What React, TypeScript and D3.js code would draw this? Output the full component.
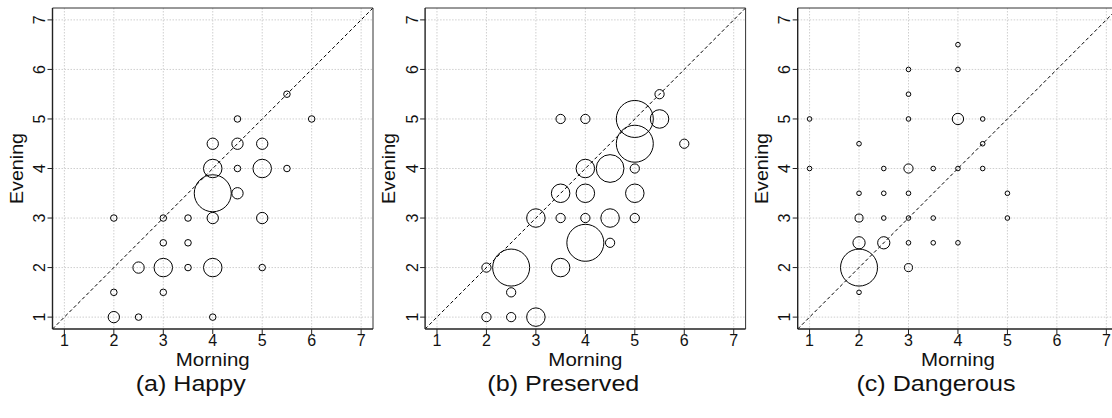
import React from "react";
import * as d3 from "d3";

// [morning, evening, count]
const happyPoints: [number, number, number][] = [
  [5.5, 5.5, 1], [4.5, 5, 1], [6, 5, 1],
  [4, 4.5, 3], [4.5, 4.5, 3], [5, 4.5, 3],
  [4, 4, 8], [4.5, 4, 1], [5, 4, 8], [5.5, 4, 1],
  [4, 3.5, 32], [4.5, 3.5, 3],
  [2, 3, 1], [3, 3, 1], [3.5, 3, 1], [4, 3, 3], [5, 3, 3],
  [3, 2.5, 1], [3.5, 2.5, 1],
  [2.5, 2, 3], [3, 2, 8], [3.5, 2, 1], [4, 2, 8], [5, 2, 1],
  [2, 1.5, 1], [3, 1.5, 1],
  [2, 1, 3], [2.5, 1, 1], [4, 1, 1],
];

const preservedPoints: [number, number, number][] = [
  [5.5, 5.5, 1],
  [3.5, 5, 1], [4, 5, 1], [5, 5, 16], [5.5, 5, 4],
  [5, 4.5, 16], [6, 4.5, 1],
  [4, 4, 4], [4.5, 4, 9], [5, 4, 1],
  [3.5, 3.5, 4], [4, 3.5, 4], [5, 3.5, 4],
  [3, 3, 4], [3.5, 3, 1], [4, 3, 1], [4.5, 3, 4], [5, 3, 1],
  [4, 2.5, 16], [4.5, 2.5, 1],
  [2, 2, 1], [2.5, 2, 16], [3.5, 2, 4],
  [2.5, 1.5, 1],
  [2, 1, 1], [2.5, 1, 1], [3, 1, 4],
];

const dangerousPoints: [number, number, number][] = [
  [4, 6.5, 1],
  [3, 6, 1], [4, 6, 1],
  [3, 5.5, 1],
  [1, 5, 1], [3, 5, 1], [4, 5, 6], [4.5, 5, 1],
  [2, 4.5, 1], [4.5, 4.5, 1],
  [1, 4, 1], [2.5, 4, 1], [3, 4, 4], [3.5, 4, 1], [4, 4, 1], [4.5, 4, 1],
  [2, 3.5, 1], [2.5, 3.5, 1], [3, 3.5, 1], [5, 3.5, 1],
  [2, 3, 3], [2.5, 3, 1], [3, 3, 1], [3.5, 3, 1], [5, 3, 1],
  [2, 2.5, 7], [2.5, 2.5, 7], [3, 2.5, 1], [3.5, 2.5, 1], [4, 2.5, 1],
  [2, 2, 64], [3, 2, 3],
  [2, 1.5, 1],
];

const panelTitles = ["(a) Happy", "(b) Preserved", "(c) Dangerous"];
const panelTitleWidths = [110, 152, 159];
const ticks = [1, 2, 3, 4, 5, 6, 7];
const xLabel = "Morning";
const yLabel = "Evening";

const W = 1112;
const H = 418;
const FONT = "'Liberation Sans', Arial, Helvetica, sans-serif";

const panels = [
  { points: happyPoints, max: 32 },
  { points: preservedPoints, max: 16 },
  { points: dangerousPoints, max: 64 },
];

const PANEL_STEP = 372.6;
const PLOT_LEFT0 = 52.5;
const PLOT_W = 320.5;
const PLOT_TOP = 8;
const PLOT_BOTTOM = 329;
const DOMAIN: [number, number] = [0.76, 7.24];
const R_MAX = 18.5;

function Panel({ index }: { index: number }) {
  const { points, max } = panels[index];
  const x0 = PLOT_LEFT0 + index * PANEL_STEP;
  const x = d3.scaleLinear().domain(DOMAIN).range([x0, x0 + PLOT_W]);
  const y = d3.scaleLinear().domain(DOMAIN).range([PLOT_BOTTOM, PLOT_TOP]);
  const r = d3.scaleSqrt().domain([0, max]).range([0, R_MAX]);
  const clipId = `clip-${index}`;
  const cx = x0 + PLOT_W / 2;
  const diag = d3.line<number>().x((d) => x(d)).y((d) => y(d))(DOMAIN as number[]) || "";
  return (
    <g>
      <defs>
        <clipPath id={clipId}>
          <rect x={x0} y={PLOT_TOP} width={PLOT_W} height={PLOT_BOTTOM - PLOT_TOP} />
        </clipPath>
      </defs>
      {ticks.map((t) => (
        <g key={`g${t}`}>
          <line x1={x(t)} x2={x(t)} y1={PLOT_TOP} y2={PLOT_BOTTOM} stroke="#cfcfcf" strokeWidth={1} strokeDasharray="1.5 1.5" />
          <line x1={x0} x2={x0 + PLOT_W} y1={y(t)} y2={y(t)} stroke="#cfcfcf" strokeWidth={1} strokeDasharray="1.5 1.5" />
        </g>
      ))}
      <path d={diag} clipPath={`url(#${clipId})`} fill="none" stroke="#000" strokeWidth={1} strokeDasharray="3.5 2.5" />
      <g clipPath={`url(#${clipId})`}>
        {points.map((p, i) => (
          <circle key={i} cx={x(p[0])} cy={y(p[1])} r={r(p[2])} fill="none" stroke="#000" strokeWidth={1} />
        ))}
      </g>
      <line x1={x0} x2={x0 + PLOT_W} y1={PLOT_TOP} y2={PLOT_TOP} stroke="#333" strokeWidth={1} />
      <line x1={x0 + PLOT_W} x2={x0 + PLOT_W} y1={PLOT_TOP} y2={PLOT_BOTTOM} stroke="#333" strokeWidth={1} />
      <line x1={x0} x2={x0} y1={PLOT_TOP} y2={PLOT_BOTTOM} stroke="#222" strokeWidth={1.4} />
      <line x1={x0} x2={x0 + PLOT_W} y1={PLOT_BOTTOM} y2={PLOT_BOTTOM} stroke="#222" strokeWidth={1.4} />
      {ticks.map((t) => (
        <g key={`t${t}`}>
          <line x1={x(t)} x2={x(t)} y1={PLOT_BOTTOM} y2={PLOT_BOTTOM + 5} stroke="#222" strokeWidth={1} />
          <text x={x(t)} y={346} textAnchor="middle" fontSize={16} fontFamily={FONT} fill="#111">{t}</text>
          <line x1={x0 - 5} x2={x0} y1={y(t)} y2={y(t)} stroke="#222" strokeWidth={1} />
          <text transform={`translate(${x0 - 7.5},${y(t)}) rotate(-90)`} textAnchor="middle" fontSize={16} fontFamily={FONT} fill="#111">{t}</text>
        </g>
      ))}
      <text x={cx} y={366} textAnchor="middle" fontSize={17.5} fontFamily={FONT} fill="#111" textLength={74} lengthAdjust="spacingAndGlyphs">{xLabel}</text>
      <text transform={`translate(${x0 - 30},${(PLOT_TOP + PLOT_BOTTOM) / 2}) rotate(-90)`} textAnchor="middle" fontSize={17.5} fontFamily={FONT} fill="#111" textLength={71} lengthAdjust="spacingAndGlyphs">{yLabel}</text>
      <text x={cx - 22} y={391} textAnchor="middle" fontSize={22} fontFamily={FONT} fill="#111" textLength={panelTitleWidths[index]} lengthAdjust="spacingAndGlyphs">{panelTitles[index]}</text>
    </g>
  );
}

export default function App() {
  return (
    <svg width={W} height={H} viewBox={`0 0 ${W} ${H}`} style={{ position: "absolute", left: 0, top: 0, background: "#fff" }}>
      <rect x={0} y={0} width={W} height={H} fill="#fff" />
      {panels.map((_, i) => (
        <Panel key={i} index={i} />
      ))}
    </svg>
  );
}
